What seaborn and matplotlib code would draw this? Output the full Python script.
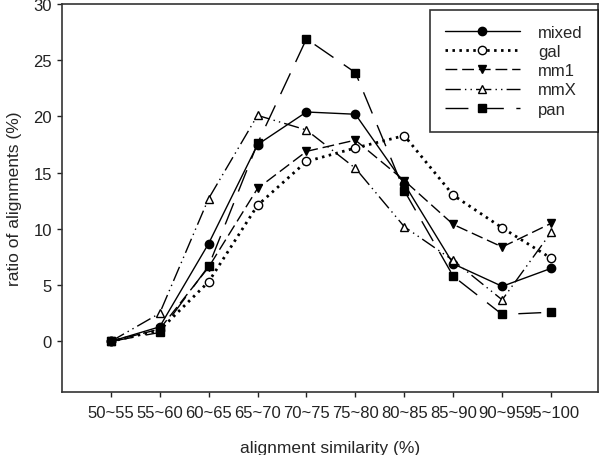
import matplotlib
matplotlib.use("Agg")
import matplotlib.pyplot as plt
import seaborn as sns

categories = ["50~55", "55~60", "60~65", "65~70", "70~75",
              "75~80", "80~85", "85~90", "90~95", "95~100"]
mixed = [0.0, 1.3, 8.7, 17.5, 20.4, 20.2, 14.0, 6.9, 4.9, 6.5]
gal = [0.0, 1.0, 5.3, 12.1, 16.0, 17.2, 18.3, 13.0, 10.1, 7.4]
mm1 = [0.0, 1.1, 6.6, 13.6, 16.9, 17.9, 14.3, 10.4, 8.4, 10.5]
mmX = [0.0, 2.5, 12.7, 20.1, 18.8, 15.4, 10.2, 7.2, 3.7, 9.7]
pan = [0.0, 0.8, 6.7, 17.6, 26.9, 23.9, 13.4, 5.8, 2.4, 2.6]

series_names = ["mixed", "gal", "mm1", "mmX", "pan"]
series_values = [mixed, gal, mm1, mmX, pan]

# line style / marker for each series
styles = {
    "mixed": dict(linestyle="-", marker="o", markerfacecolor="black", linewidth=1.0),
    "gal": dict(linestyle=(0, (0.9, 1.6)), marker="o", markerfacecolor="white", linewidth=2.0),
    "mm1": dict(linestyle=(0, (8.5, 3.5)), marker="v", markerfacecolor="black", linewidth=1.0),
    "mmX": dict(linestyle=(0, (11, 3, 1, 3, 1, 3)), marker="^", markerfacecolor="white", linewidth=1.0),
    "pan": dict(linestyle=(0, (16.5, 9)), marker="s", markerfacecolor="black", linewidth=1.0),
}

sns.set_style("white")
plt.rcParams["font.family"] = ["Liberation Sans", "DejaVu Sans"]

fig, ax = plt.subplots(figsize=(6, 4.56), dpi=100)

for name, vals in zip(series_names, series_values):
    st = styles[name]
    sns.lineplot(x=categories, y=vals, ax=ax, color="black", label=name,
                 linestyle=st["linestyle"], linewidth=st["linewidth"],
                 marker=st["marker"], markersize=6,
                 markerfacecolor=st["markerfacecolor"],
                 markeredgecolor="black", markeredgewidth=1.0)

ax.set_xlim(-1, 9.95)
ax.set_ylim(-4.5, 30)
ax.set_yticks([0, 5, 10, 15, 20, 25, 30])
ax.tick_params(axis="both", direction="out", length=3.5, width=1, labelsize=12,
               bottom=True, left=True, colors="#222222")
ax.tick_params(axis="x", pad=6)
ax.set_xlabel("alignment similarity (%)", fontsize=12.5, labelpad=14)
ax.set_ylabel("ratio of alignments (%)", fontsize=12.5, labelpad=8)

for s in ax.spines.values():
    s.set_color("#333333")
    s.set_linewidth(1.2)

leg = ax.legend(loc="upper right", bbox_to_anchor=(1.0, 0.985), handlelength=4.5,
                fontsize=12, frameon=True, fancybox=False, edgecolor="black",
                borderpad=0.9, labelspacing=0.25, handletextpad=1.1, borderaxespad=0.0)
leg.get_frame().set_linewidth(1.2)

fig.subplots_adjust(left=0.103, right=0.996, top=0.989, bottom=0.138)
fig.savefig("out.png", dpi=100)
